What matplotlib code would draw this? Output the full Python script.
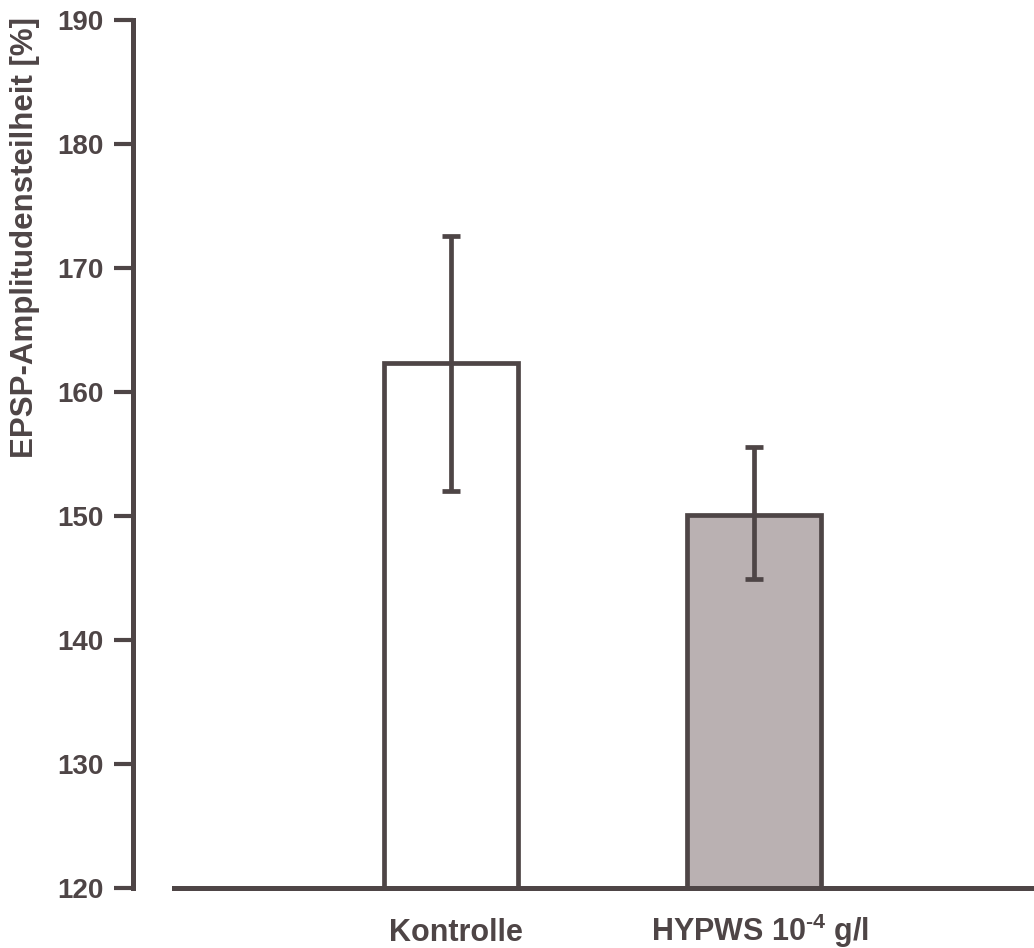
import numpy as np
import matplotlib
matplotlib.use("Agg")
import matplotlib.pyplot as plt
import matplotlib.transforms as mtransforms

plt.rcParams['font.family'] = ['Liberation Sans', 'DejaVu Sans']
plt.rcParams['font.weight'] = 'bold'
plt.rcParams['mathtext.fontset'] = 'custom'
plt.rcParams['mathtext.rm'] = 'Liberation Sans:bold'
plt.rcParams['mathtext.bf'] = 'Liberation Sans:bold'
plt.rcParams['mathtext.default'] = 'rm'

# EPSP slope, mean and SEM per group
groups = ['Kontrolle', 'HYPWS 10$^{\u20104}$ g/l']
means = [162.3, 150.1]
err_low = [152.0, 144.9]
err_high = [172.6, 155.6]

dark = '#4e4546'
fills = ['white', '#bab1b2']

fig = plt.figure(figsize=(10.34, 9.48), dpi=100)
ax = fig.add_axes([133 / 1034, 60 / 948, 1 - 133 / 1034, 868 / 948])

x = np.arange(len(groups))
ax.bar(x, np.array(means) - 120, bottom=120, width=0.442, color=fills,
       edgecolor=dark, linewidth=3.4, zorder=2)
yerr = [np.array(means) - np.array(err_low), np.array(err_high) - np.array(means)]
ax.errorbar(x, means, yerr=yerr, fmt='none', ecolor=dark, elinewidth=3.4,
            capsize=6.5, capthick=3.4, zorder=3)

ax.set_xlim(-1.0495, 1.924)
ax.set_ylim(120, 190)
ax.set_yticks(np.arange(120, 191, 10))
ax.set_xticks([])
ax.tick_params(axis='y', length=14, width=3, color=dark, labelsize=20,
               labelcolor=dark, pad=7)

# group names sit on a common baseline below the axis
trans = mtransforms.blended_transform_factory(ax.transData, fig.transFigure)
for xi, name in zip(x + np.array([0.015, 0.02]), groups):
    ax.text(xi, 1 - 941 / 948, name, transform=trans, ha='center',
            va='baseline', fontsize=22, fontweight='bold', color=dark)

ax.spines['top'].set_visible(False)
ax.spines['right'].set_visible(False)
for s in ['left', 'bottom']:
    ax.spines[s].set_color(dark)
    ax.spines[s].set_linewidth(3.6)
ax.spines['bottom'].set_bounds(-0.914, 1.924)

ax.set_ylabel('EPSP-Amplitudensteilheit [%]', fontsize=22.5, fontweight='bold',
              color=dark)
ax.yaxis.set_label_coords(-0.103, 0.75)

fig.savefig('out.png', dpi=100)
